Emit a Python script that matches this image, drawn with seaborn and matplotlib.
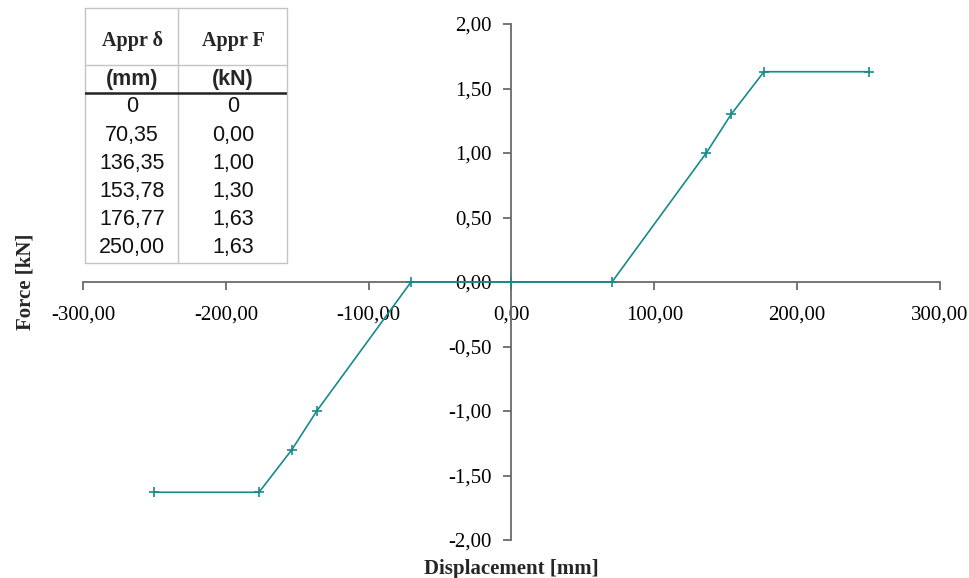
import numpy as np
import pandas as pd
import seaborn as sns
import matplotlib.pyplot as plt
from matplotlib.ticker import FuncFormatter, MultipleLocator

# table values (positive branch, the curve is symmetric)
disp_mm = [0, 70.35, 136.35, 153.78, 176.77, 250.00]
force_kn = [0, 0.00, 1.00, 1.30, 1.63, 1.63]
disp_labels = ["0", "70,35", "136,35", "153,78", "176,77", "250,00"]
force_labels = ["0", "0,00", "1,00", "1,30", "1,63", "1,63"]

LINE_COLOR = "#168b8b"
AXIS_COLOR = "#6a6a6a"


def comma_fmt(v, pos):
    return f"{v:.2f}".replace(".", ",")


def build_curve():
    neg_x = [-d for d in reversed(disp_mm[1:])]
    neg_y = [-f for f in reversed(force_kn[1:])]
    return pd.DataFrame({"disp": neg_x + disp_mm, "force": neg_y + force_kn})


def draw_table(fig):
    W, H = 970, 578
    x0, x1, y0, y1 = 85, 287, 8, 263
    tax = fig.add_axes([x0 / W, 1 - y1 / H, (x1 - x0) / W, (y1 - y0) / H])
    tax.set_xlim(x0, x1)
    tax.set_ylim(y1, y0)
    tax.axis("off")
    tax.patch.set_visible(True)
    tax.set_facecolor("white")
    grid = dict(color="#c4c4c4", lw=1.0)
    tax.plot([x0, x1, x1, x0, x0], [y0, y0, y1, y1, y0], **grid, clip_on=False)
    tax.plot([178, 178], [y0, y1], **grid)
    tax.plot([x0, x1], [65, 65], **grid)
    tax.plot([x0, x1], [93, 93], color="#222222", lw=1.8)

    c1, c2 = 132, 233
    serif = dict(family="Liberation Serif", weight="bold", fontsize=14.5,
                 ha="center", va="center")
    sans_b = dict(family="Liberation Sans", weight="bold", fontsize=15.5,
                  ha="center", va="center")
    sans = dict(family="Liberation Sans", fontsize=15.5, ha="center", va="center",
                color="#111111")
    tax.text(c1, 41, "Appr δ", **serif)
    tax.text(c2, 41, "Appr F", **serif)
    tax.text(c1, 80, "(mm)", **sans_b)
    tax.text(c2, 80, "(kN)", **sans_b)
    for i, (a, b) in enumerate(zip(disp_labels, force_labels)):
        y = 107 + i * 28
        tax.text(c1, y, a, **sans)
        tax.text(c2, y, b, **sans)


def main():
    sns.set_theme(style="white")
    plt.rcParams["font.family"] = ["Liberation Serif", "DejaVu Serif"]

    fig = plt.figure(figsize=(9.7, 5.78), dpi=100)
    ax = fig.add_axes([83 / 970, 38 / 578, 857 / 970, 516 / 578])

    curve = build_curve()
    sns.lineplot(data=curve, x="disp", y="force", sort=False, estimator=None,
                 color=LINE_COLOR, lw=1.2, marker="+", markersize=7,
                 markeredgewidth=1.2, markeredgecolor=LINE_COLOR, ax=ax, zorder=3)

    ax.set_xlim(-300, 300)
    ax.set_ylim(-2, 2)
    ax.xaxis.set_major_locator(MultipleLocator(100))
    ax.yaxis.set_major_locator(MultipleLocator(0.5))
    ax.xaxis.set_major_formatter(FuncFormatter(comma_fmt))
    ax.yaxis.set_major_formatter(FuncFormatter(comma_fmt))

    for side in ["top", "right"]:
        ax.spines[side].set_visible(False)
    ax.spines["left"].set_position(("data", 0))
    ax.spines["bottom"].set_position(("data", 0))
    for side in ["left", "bottom"]:
        ax.spines[side].set_color(AXIS_COLOR)
        ax.spines[side].set_linewidth(1.3)

    ax.tick_params(axis="x", direction="out", length=6, width=1.3, color=AXIS_COLOR,
                   pad=11, labelsize=15, labelcolor="black", bottom=True)
    ax.tick_params(axis="y", direction="out", length=6, width=1.3, color=AXIS_COLOR,
                   pad=8, labelsize=15, labelcolor="black", left=True)
    ax.grid(False)
    ax.patch.set_alpha(0)

    ax.set_xlabel("Displacement [mm]", fontsize=15, fontweight="bold")
    ax.set_ylabel("Force [kN]", fontsize=15, fontweight="bold")
    ax.xaxis.set_label_coords(0.5, -0.057)
    ax.xaxis.label.set_va("center")
    ax.yaxis.set_label_coords(-0.067, 0.5)
    ax.yaxis.label.set_va("center")

    draw_table(fig)

    fig.savefig("out.png", dpi=100)


if __name__ == "__main__":
    main()
